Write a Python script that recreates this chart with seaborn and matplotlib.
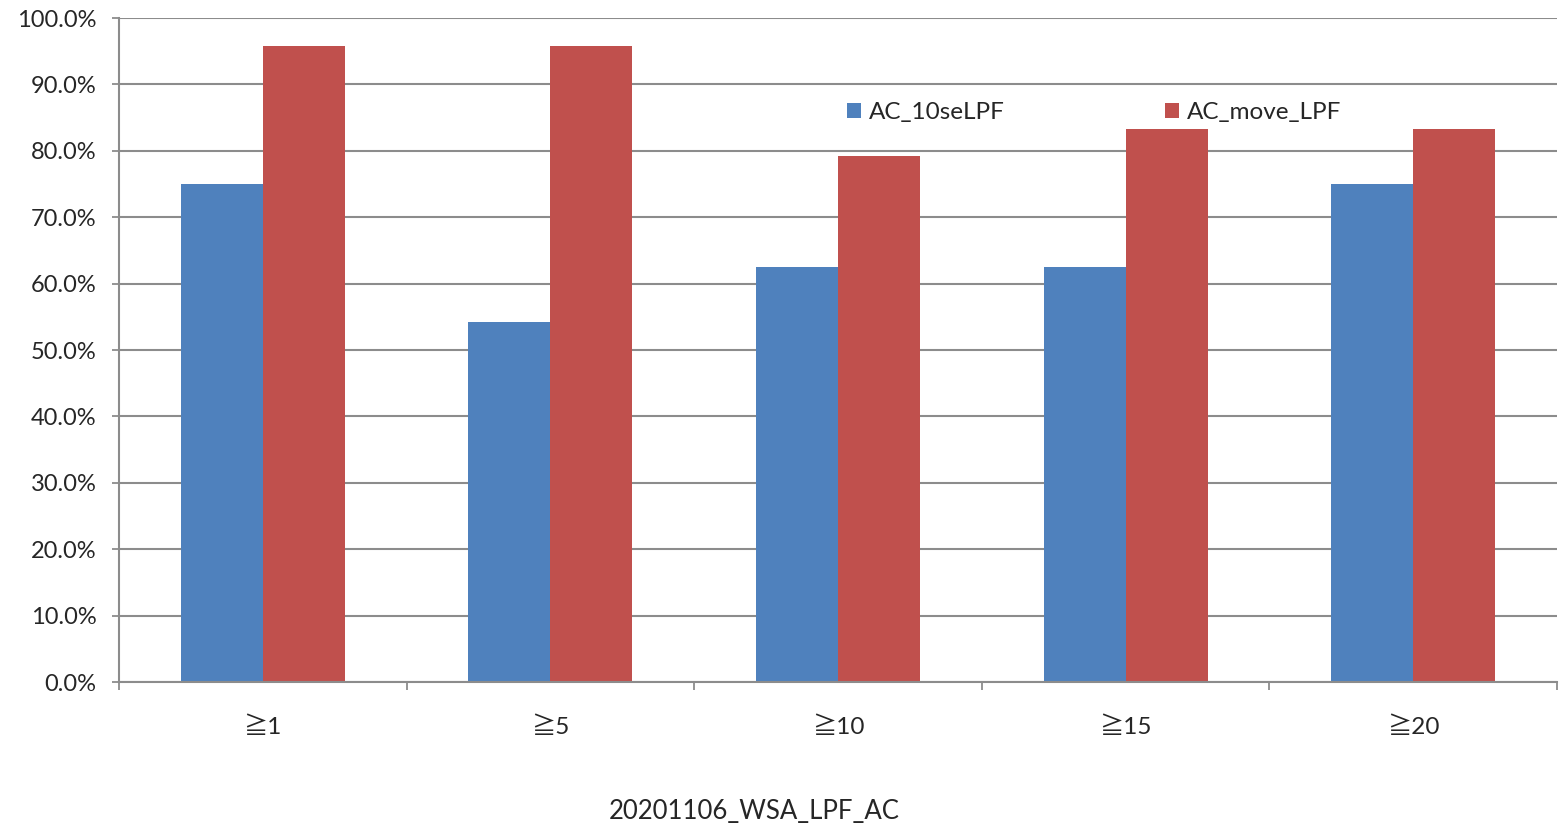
import pandas as pd
import numpy as np
import matplotlib
matplotlib.use('Agg')
import matplotlib.pyplot as plt
import seaborn as sns
from matplotlib.ticker import PercentFormatter

# categories and series values (percent)
categories = ['≧1', '≧5', '≧10', '≧15', '≧20']
ac_10selpf = [75.0, 54.2, 62.5, 62.5, 75.0]
ac_move_lpf = [95.8, 95.8, 79.2, 83.3, 83.3]
series_names = ['AC_10seLPF', 'AC_move_LPF']
colors = ['#4F81BD', '#C0504D']

df = pd.DataFrame({
    'cat': categories * 2,
    'val': ac_10selpf + ac_move_lpf,
    'series': [series_names[0]] * 5 + [series_names[1]] * 5,
})

sns.set_style('white')
plt.rcParams['font.family'] = ['Lato', 'Noto Sans CJK JP', 'DejaVu Sans']

fig = plt.figure(figsize=(15.59, 8.31), dpi=100)
ax = fig.add_axes([0.0763, 0.1793, 0.9224, 0.799])

sns.barplot(data=df, x='cat', y='val', hue='series', palette=colors,
            width=0.57, ax=ax, saturation=1, edgecolor='none')

ax.set_ylim(0, 100)
ax.set_xlim(-0.5, 4.5)
ax.set_yticks(np.arange(0, 101, 10))
ax.yaxis.set_major_formatter(PercentFormatter(decimals=1))
ax.grid(axis='y', color='#8c8c8c', linewidth=1.5)
ax.set_axisbelow(True)

# x ticks at group boundaries, labels at centers
ax.set_xticks(np.arange(-0.5, 5, 1))
ax.set_xticklabels([])
ax.set_xticks(np.arange(5), minor=True)
ax.set_xticklabels(categories, minor=True)
ax.tick_params(axis='x', which='major', direction='out', length=6, width=1.3, color='#8c8c8c', bottom=True)
ax.tick_params(axis='x', which='minor', length=0, pad=25, labelsize=17.5)
ax.tick_params(axis='y', direction='out', length=5, width=1.3, color='#8c8c8c', left=True, labelsize=17, pad=11)
ax.set_xlabel('')
ax.set_ylabel('')

for s in ['top', 'right']:
    ax.spines[s].set_visible(False)
for s in ['left', 'bottom']:
    ax.spines[s].set_color('#8c8c8c')
    ax.spines[s].set_linewidth(1.5)

leg = ax.legend(loc='center left', bbox_to_anchor=(0.506, 0.858), ncol=2, frameon=False,
                fontsize=17.5, handlelength=0.6, handleheight=0.6, handletextpad=0.3,
                columnspacing=6.6, borderaxespad=0, borderpad=0)

fig.text(0.484, 0.023, '20201106_WSA_LPF_AC', ha='center', va='center', fontsize=18.5)

fig.savefig('out.png', dpi=100)
